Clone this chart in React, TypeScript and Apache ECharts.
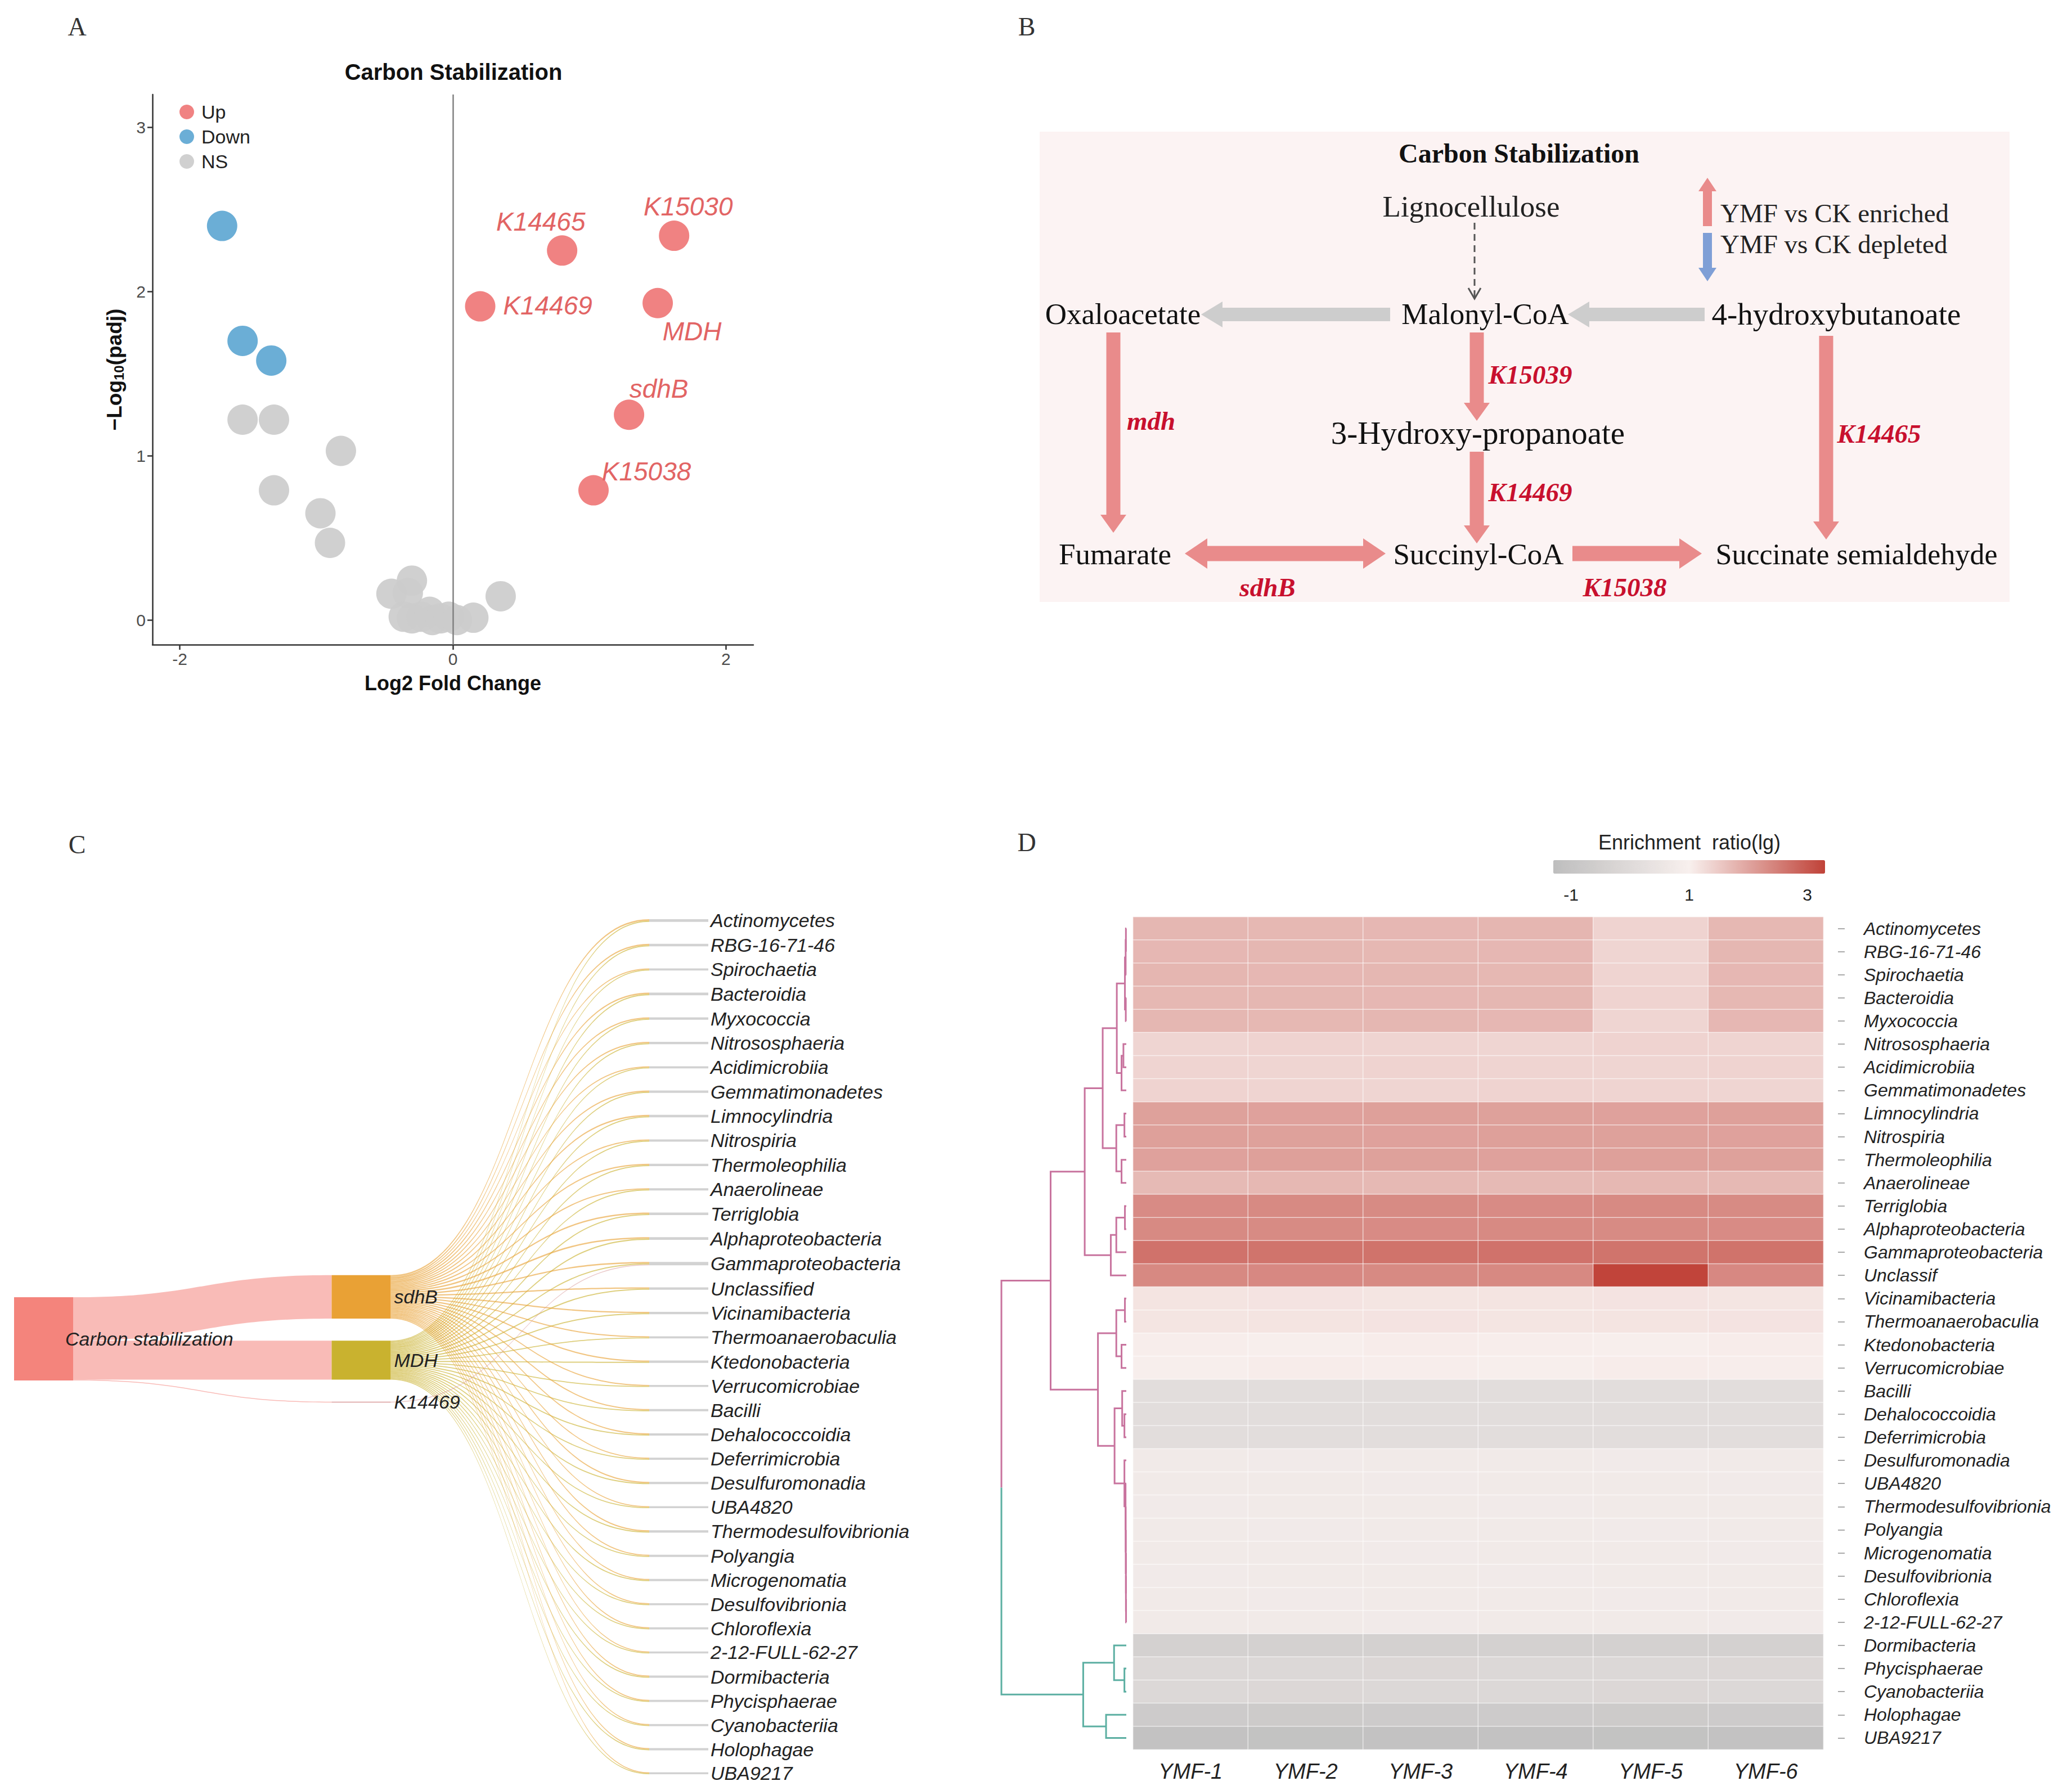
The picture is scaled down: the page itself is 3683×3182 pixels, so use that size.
import React, { useEffect, useRef } from 'react';
import * as echarts from 'echarts';

const W = 3683;
const H = 3182;
const SANS = '"Liberation Sans", Arial, Helvetica, sans-serif';
const SERIF = '"Liberation Serif", "Times New Roman", serif';

// ---------------- Panel A : volcano ----------------
const UP_GENES = ['K14465', 'K15030', 'K14469', 'MDH', 'sdhB', 'K15038'];
const UP_LOG2FC = [0.8, 1.62, 0.2, 1.5, 1.29, 1.03];
const UP_LOGP = [2.25, 2.34, 1.91, 1.93, 1.25, 0.79];
const DOWN_LOG2FC = [-1.69, -1.54, -1.33];
const DOWN_LOGP = [2.4, 1.7, 1.58];
const NS_LOG2FC = [-1.54, -1.31, -0.82, -1.31, -0.97, -0.9, -0.3, -0.45, -0.33, 0.35, -0.36, -0.3, -0.23, -0.17, -0.15, -0.09, -0.03, 0.03, 0.15];
const NS_LOGP = [1.22, 1.22, 1.03, 0.79, 0.65, 0.47, 0.24, 0.16, 0.165, 0.145, 0.02, 0.01, 0.02, 0.05, 0.0, 0.01, 0.02, 0.0, 0.014];
const VOLCANO_X_TICKS = [-2, 0, 2];
const VOLCANO_Y_TICKS = [0, 1, 2, 3];
const GROUPS = ['Up', 'Down', 'NS'];

// label placement (layout only)
const UP_LABEL_OFFSET: Record<string, [number, number]> = {
  K14465: [-38, -51],
  K15030: [25, -52],
  K14469: [120, -2],
  MDH: [61, 50],
  sdhB: [53, -46],
  K15038: [94, -34],
};

// ---------------- Panel C : sankey ----------------
const SANKEY_ROOT = 'Carbon stabilization';
const ENZYMES = ['sdhB', 'MDH', 'K14469'];
const CLASSES = [
  'Actinomycetes', 'RBG-16-71-46', 'Spirochaetia', 'Bacteroidia', 'Myxococcia', 'Nitrososphaeria',
  'Acidimicrobiia', 'Gemmatimonadetes', 'Limnocylindria', 'Nitrospiria', 'Thermoleophilia', 'Anaerolineae',
  'Terriglobia', 'Alphaproteobacteria', 'Gammaproteobacteria', 'Unclassified', 'Vicinamibacteria',
  'Thermoanaerobaculia', 'Ktedonobacteria', 'Verrucomicrobiae', 'Bacilli', 'Dehalococcoidia',
  'Deferrimicrobia', 'Desulfuromonadia', 'UBA4820', 'Thermodesulfovibrionia', 'Polyangia',
  'Microgenomatia', 'Desulfovibrionia', 'Chloroflexia', '2-12-FULL-62-27', 'Dormibacteria',
  'Phycisphaerae', 'Cyanobacteriia', 'Holophagae', 'UBA9217',
];
const SDHB_FLOW = [2.6, 2.4, 1.9, 2.5, 2.3, 2.2, 2.0, 2.1, 2.3, 2.0, 2.2, 2.1, 2.4, 2.5, 2.3, 2.2, 2.1, 2.0, 2.2, 1.9, 2.0, 2.1, 1.9, 2.0, 1.8, 2.2, 2.0, 1.9, 1.8, 1.9, 1.8, 2.1, 1.9, 1.8, 1.9, 1.7];
const MDH_FLOW = [1.9, 2.0, 1.7, 2.1, 2.0, 1.9, 1.8, 1.9, 2.0, 1.9, 2.0, 1.8, 2.1, 2.2, 2.0, 2.1, 1.9, 1.8, 1.9, 1.7, 1.8, 1.9, 1.8, 1.9, 1.7, 2.0, 1.8, 1.8, 1.7, 1.8, 1.7, 1.9, 1.8, 1.7, 1.8, 1.6];
const K14469_TARGET = 'Gammaproteobacteria';
const K14469_FLOW = 1.5;

// ---------------- Panel D : heatmap ----------------
const HEAT_SAMPLES = ['YMF-1', 'YMF-2', 'YMF-3', 'YMF-4', 'YMF-5', 'YMF-6'];
const HEAT_ROWS = CLASSES.map((c) => (c === 'Unclassified' ? 'Unclassif' : c));
const HEAT_VALUES = [
  [1.76, 1.74, 1.75, 1.77, 1.38, 1.74],
  [1.75, 1.76, 1.74, 1.75, 1.36, 1.76],
  [1.77, 1.75, 1.76, 1.74, 1.37, 1.75],
  [1.74, 1.76, 1.75, 1.76, 1.38, 1.74],
  [1.76, 1.74, 1.76, 1.75, 1.36, 1.75],
  [1.36, 1.38, 1.37, 1.36, 1.38, 1.37],
  [1.37, 1.36, 1.38, 1.37, 1.36, 1.38],
  [1.38, 1.37, 1.36, 1.38, 1.37, 1.36],
  [2.05, 2.04, 2.06, 2.05, 2.04, 2.06],
  [2.06, 2.05, 2.04, 2.06, 2.05, 2.04],
  [2.04, 2.06, 2.05, 2.04, 2.06, 2.05],
  [1.72, 1.74, 1.73, 1.72, 1.74, 1.73],
  [2.33, 2.35, 2.34, 2.33, 2.35, 2.34],
  [2.35, 2.34, 2.33, 2.35, 2.34, 2.33],
  [2.66, 2.64, 2.65, 2.66, 2.64, 2.65],
  [2.36, 2.37, 2.35, 2.36, 3.27, 2.37],
  [1.16, 1.17, 1.15, 1.16, 1.17, 1.15],
  [1.15, 1.16, 1.17, 1.15, 1.16, 1.17],
  [1.04, 1.03, 1.05, 1.04, 1.03, 1.05],
  [1.03, 1.05, 1.04, 1.03, 1.05, 1.04],
  [0.14, 0.12, 0.13, 0.14, 0.12, 0.13],
  [0.12, 0.13, 0.14, 0.12, 0.13, 0.14],
  [0.13, 0.14, 0.12, 0.13, 0.14, 0.12],
  [0.72, 0.74, 0.73, 0.72, 0.74, 0.73],
  [0.73, 0.72, 0.74, 0.73, 0.72, 0.74],
  [0.74, 0.73, 0.72, 0.74, 0.73, 0.72],
  [0.72, 0.74, 0.73, 0.72, 0.74, 0.73],
  [0.73, 0.72, 0.74, 0.73, 0.72, 0.74],
  [0.74, 0.73, 0.72, 0.74, 0.73, 0.72],
  [0.72, 0.74, 0.73, 0.72, 0.74, 0.73],
  [0.73, 0.72, 0.74, 0.73, 0.72, 0.74],
  [-0.43, -0.42, -0.44, -0.43, -0.42, -0.44],
  [-0.12, -0.11, -0.13, -0.12, -0.11, -0.13],
  [-0.11, -0.13, -0.12, -0.11, -0.13, -0.12],
  [-0.7, -0.71, -0.69, -0.7, -0.71, -0.69],
  [-1.1, -1.09, -1.11, -1.1, -1.09, -1.11],
];
const COLOR_MIN = -1.3;
const COLOR_MAX = 3.3;
const COLORBAR_TICKS = [-1, 1, 3];

// dendrogram: [height, left, right] or leaf row index
type DNode = number | [number, DNode, DNode];
const DENDRO_TREE: DNode = [1.0,
  [0.606,
    [0.333,
      [0.189,
        [0.076,
          [0.011, [0.005, [0.003, 0, 1], 2], [0.004, 3, 4]],
          [0.038, [0.023, 5, 6], 7]],
        [0.08, [0.015, 8, 9], [0.038, 10, 11]]],
      [0.124, [0.08, [0.011, 12, 13], 14], 15]],
    [0.227,
      [0.08, [0.011, 16, 17], [0.038, 18, 19]],
      [0.094,
        [0.033, 20, [0.015, 21, 22]],
        [0.015, 23, [0.006, 24, [0.005, 25, [0.004, 26, [0.003, 27, [0.003, 28, [0.002, 29, 30]]]]]]]]]],
  [0.345,
    [0.098, 31, [0.015, 32, 33]],
    [0.162, 34, 35]]];

const PINK = '#C8739E';
const TEAL = '#5CAFA2';

function buildDendro() {
  const segs: any[] = [];
  const lay = (n: DNode, color: string): { h: number; y: number } => {
    if (typeof n === 'number') return { h: 0, y: n };
    const L = lay(n[1], color);
    const R = lay(n[2], color);
    segs.push({ coords: [[L.h, L.y], [n[0], L.y], [n[0], R.y], [R.h, R.y]], lineStyle: { color } });
    return { h: n[0], y: (L.y + R.y) / 2 };
  };
  const root = DENDRO_TREE as [number, DNode, DNode];
  const U = lay(root[1], PINK);
  const T = lay(root[2], TEAL);
  const mid = (U.y + T.y) / 2;
  segs.push({ coords: [[U.h, U.y], [root[0], U.y], [root[0], mid]], lineStyle: { color: PINK } });
  segs.push({ coords: [[root[0], mid], [root[0], T.y], [T.h, T.y]], lineStyle: { color: TEAL } });
  return segs;
}

// ---------------- Panel B helpers ----------------
function arrowPts(x1: number, y1: number, x2: number, y2: number, bw: number, hw: number, hl: number, dbl = false) {
  const dx = x2 - x1, dy = y2 - y1;
  const len = Math.hypot(dx, dy);
  const ux = dx / len, uy = dy / len, nx = -uy, ny = ux;
  const P = (x: number, y: number, a: number, b: number) => [x + ux * a + nx * b, y + uy * a + ny * b];
  const pts: number[][] = [];
  if (dbl) pts.push(P(x1, y1, 0, 0), P(x1, y1, hl, hw / 2), P(x1, y1, hl, bw / 2));
  else pts.push(P(x1, y1, 0, bw / 2));
  pts.push(P(x2, y2, -hl, bw / 2), P(x2, y2, -hl, hw / 2), P(x2, y2, 0, 0), P(x2, y2, -hl, -hw / 2), P(x2, y2, -hl, -bw / 2));
  if (dbl) pts.push(P(x1, y1, hl, -bw / 2), P(x1, y1, hl, -hw / 2));
  else pts.push(P(x1, y1, 0, -bw / 2));
  return pts;
}

function txt(text: string, x: number, y: number, o: any = {}) {
  const align = o.align || 'center';
  return {
    type: 'text', x, y, z: 20,
    style: {
      text,
      fill: o.fill || '#111',
      fontSize: o.size || 40,
      fontFamily: o.family || SANS,
      fontWeight: o.weight || 'normal',
      fontStyle: o.style || 'normal',
      align, verticalAlign: 'middle',
      textAlign: align, textVerticalAlign: 'middle',
    },
  };
}

function buildOption() {
  // volcano series data
  const upData = UP_GENES.map((g, i) => ({
    name: g,
    value: [UP_LOG2FC[i], UP_LOGP[i]],
    label: { offset: UP_LABEL_OFFSET[g] },
  }));
  const downData = DOWN_LOG2FC.map((x, i) => [x, DOWN_LOGP[i]]);
  const nsData = NS_LOG2FC.map((x, i) => [x, NS_LOGP[i]]);

  // sankey
  const sdhTotal = SDHB_FLOW.reduce((a, b) => a + b, 0);
  const mdhTotal = MDH_FLOW.reduce((a, b) => a + b, 0);
  const total = sdhTotal + mdhTotal + K14469_FLOW;
  const SK_H = 1520;
  const SK_GAP = 39.2;
  const ky = (SK_H - (CLASSES.length - 1) * SK_GAP) / total;
  const centerY = 746;
  const srcTop = centerY - (total * ky) / 2;
  const midTop = centerY - (total * ky + 2 * SK_GAP) / 2;
  const enzVals = [sdhTotal, mdhTotal, K14469_FLOW];
  const enzTops: number[] = [];
  let acc = midTop;
  enzVals.forEach((v) => { enzTops.push(acc); acc += v * ky + SK_GAP; });
  const enzColors = ['#E9A135', '#C9B22F', '#D99A9A'];

  const nodes: any[] = [
    {
      name: SANKEY_ROOT, localY: srcTop / SK_H,
      itemStyle: { color: '#F4847C' },
      label: { position: 'right', distance: -14 },
    },
    ...ENZYMES.map((e, i) => ({
      name: e, localY: enzTops[i] / SK_H,
      itemStyle: { color: enzColors[i] },
      label: { position: 'right', distance: 6 },
    })),
    ...CLASSES.map((c) => ({ name: c, itemStyle: { color: '#D2D2D2' }, label: { position: 'right', distance: 4 } })),
  ];
  const links: any[] = [
    { source: SANKEY_ROOT, target: 'sdhB', value: sdhTotal },
    { source: SANKEY_ROOT, target: 'MDH', value: mdhTotal },
    { source: SANKEY_ROOT, target: 'K14469', value: K14469_FLOW },
  ];
  CLASSES.forEach((c, i) => {
    links.push({ source: 'sdhB', target: c, value: SDHB_FLOW[i], lineStyle: { opacity: 0.62 } });
    links.push({ source: 'MDH', target: c, value: MDH_FLOW[i], lineStyle: { opacity: 0.62 } });
  });
  links.push({ source: 'K14469', target: K14469_TARGET, value: K14469_FLOW });

  // heatmap
  const heatData: number[][] = [];
  HEAT_VALUES.forEach((row, r) => row.forEach((v, c) => heatData.push([c, r, v])));

  // colorbar geometry
  const CB_LEFT = 2761, CB_TOP = 1529, CB_LEN = 483, CB_THICK = 24;
  const cbX = (v: number) => CB_LEFT + ((v - COLOR_MIN) / (COLOR_MAX - COLOR_MIN)) * CB_LEN;

  // panel B graphics
  const RED = '#E98B8B';
  const GRAY = '#CDCDCD';
  const LAB = '#C8102E';
  const poly = (pts: number[][], fill: string) => ({ type: 'polygon', z: 10, shape: { points: pts }, style: { fill } });
  const red = (t: string, x: number, y: number) => txt(t, x, y, { family: SERIF, size: 47, weight: 'bold', style: 'italic', fill: LAB });
  const met = (t: string, x: number, y: number, size: number) => txt(t, x, y, { family: SERIF, size, fill: '#111' });
  const bGraphics: any[] = [
    { type: 'rect', z: 5, shape: { x: 1848, y: 234, width: 1724, height: 836 }, style: { fill: '#FCF3F3' } },
    txt('Carbon Stabilization', 2700, 272, { family: SERIF, size: 48, weight: 'bold' }),
    txt('Lignocellulose', 2615, 367, { family: SERIF, size: 53, fill: '#222' }),
    { type: 'line', z: 10, shape: { x1: 2621, y1: 396, x2: 2621, y2: 528 }, style: { stroke: '#555', lineWidth: 3, lineDash: [12, 8] } },
    { type: 'polyline', z: 10, shape: { points: [[2610, 512], [2621, 531], [2632, 512]] }, style: { stroke: '#555', lineWidth: 3, fill: null } },
    poly(arrowPts(3035, 402, 3035, 316, 16, 32, 24), RED),
    poly(arrowPts(3035, 414, 3035, 500, 16, 32, 24), '#7F9FD6'),
    txt('YMF vs CK enriched', 3058, 379, { family: SERIF, size: 47, align: 'left', fill: '#222' }),
    txt('YMF vs CK depleted', 3058, 434, { family: SERIF, size: 47, align: 'left', fill: '#222' }),
    poly(arrowPts(2471, 559, 2135, 559, 24, 46, 38), GRAY),
    poly(arrowPts(3030, 559, 2787, 559, 24, 46, 38), GRAY),
    met('Oxaloacetate', 1996, 558, 53),
    met('Malonyl-CoA', 2640, 558, 53),
    met('4-hydroxybutanoate', 3264, 558, 55),
    poly(arrowPts(1979, 591, 1979, 947, 25, 46, 32), RED),
    poly(arrowPts(2625, 591, 2625, 748, 25, 46, 32), RED),
    poly(arrowPts(2625, 803, 2625, 966, 25, 46, 32), RED),
    poly(arrowPts(3246, 597, 3246, 959, 25, 46, 32), RED),
    met('3-Hydroxy-propanoate', 2627, 769, 57),
    met('Fumarate', 1982, 985, 53),
    met('Succinyl-CoA', 2628, 985, 53),
    met('Succinate semialdehyde', 3300, 985, 52),
    poly(arrowPts(2106, 984, 2463, 984, 27, 54, 40, true), RED),
    poly(arrowPts(2795, 984, 3025, 984, 27, 54, 40), RED),
    red('mdh', 2046, 748),
    red('K15039', 2720, 666),
    red('K14469', 2720, 875),
    red('K14465', 3340, 771),
    red('sdhB', 2253, 1044),
    red('K15038', 2888, 1044),
  ];

  const otherGraphics: any[] = [
    txt('A', 137, 47, { family: SERIF, size: 46, fill: '#333' }),
    txt('B', 1825, 47, { family: SERIF, size: 46, fill: '#333' }),
    txt('C', 137, 1501, { family: SERIF, size: 46, fill: '#333' }),
    txt('D', 1825, 1497, { family: SERIF, size: 46, fill: '#333' }),
    txt('Carbon Stabilization', 806, 128, { size: 40, weight: 'bold' }),
    txt('Enrichment  ratio(lg)', 3003, 1497, { size: 36, fill: '#222' }),
    ...COLORBAR_TICKS.map((v) => txt(String(v), cbX(v), 1590, { size: 30, fill: '#222' })),
  ];

  const axisCommon = {
    splitLine: { show: false },
    axisLine: { onZero: false, lineStyle: { color: '#333', width: 2.5 } },
  };

  return {
    animation: false,
    backgroundColor: '#ffffff',
    textStyle: { fontFamily: SANS },
    grid: [
      { left: 271, top: 168, width: 1068, height: 978 },
      { left: 1780, top: 1630, width: 222, height: 1480 },
      { left: 2014, top: 1630, width: 1227, height: 1480 },
    ],
    xAxis: [
      {
        type: 'value', gridIndex: 0, min: -2.2, max: 2.2, ...axisCommon,
        axisTick: { show: true, length: 9, lineStyle: { color: '#333', width: 2.5 }, customValues: VOLCANO_X_TICKS },
        axisLabel: { color: '#4D4D4D', fontSize: 30, margin: 10, customValues: VOLCANO_X_TICKS },
        name: 'Log2 Fold Change', nameLocation: 'middle', nameGap: 50,
        nameTextStyle: { fontSize: 36, fontWeight: 'bold', color: '#111' },
      },
      { type: 'value', gridIndex: 1, min: 0, max: 1.0, inverse: true, show: false },
      {
        type: 'category', gridIndex: 2, data: HEAT_SAMPLES, position: 'bottom',
        axisLine: { show: false }, axisTick: { show: false }, splitLine: { show: false },
        axisLabel: { fontSize: 38, fontStyle: 'italic', color: '#222', margin: 20, interval: 0 },
      },
    ],
    yAxis: [
      {
        type: 'value', gridIndex: 0, min: -0.15, max: 3.2, ...axisCommon,
        axisTick: { show: true, length: 9, lineStyle: { color: '#333', width: 2.5 }, customValues: VOLCANO_Y_TICKS },
        axisLabel: { color: '#4D4D4D', fontSize: 30, margin: 12, customValues: VOLCANO_Y_TICKS },
        name: '{a|\u2212Log}{b|10}{a|(padj)}', nameLocation: 'middle', nameGap: 48,
        nameTextStyle: {
          rich: {
            a: { fontSize: 37, fontWeight: 'bold', color: '#111', fontFamily: SANS },
            b: { fontSize: 24, fontWeight: 'bold', color: '#111', fontFamily: SANS, padding: [16, 0, 0, 0] },
          },
        },
      },
      { type: 'value', gridIndex: 1, min: -0.5, max: 35.5, inverse: true, show: false },
      {
        type: 'category', gridIndex: 2, data: HEAT_ROWS, inverse: true, position: 'right', offset: 26,
        axisLine: { show: false }, splitLine: { show: false },
        axisTick: { show: true, alignWithLabel: true, interval: 0, length: 12, lineStyle: { color: '#AAAAAA', width: 2 } },
        axisLabel: { fontSize: 32, fontStyle: 'italic', color: '#222', margin: 46, interval: 0 },
      },
    ],
    legend: {
      data: GROUPS, orient: 'vertical', left: 314, top: 177,
      itemWidth: 26, itemHeight: 26, itemGap: 10, icon: 'circle',
      textStyle: { fontSize: 34, color: '#222', fontFamily: SANS, padding: [0, 0, 0, 8] },
      selectedMode: false,
    },
    visualMap: {
      type: 'continuous', min: COLOR_MIN, max: COLOR_MAX, seriesIndex: 5,
      orient: 'horizontal', left: CB_LEFT, top: CB_TOP, itemWidth: CB_THICK, itemHeight: CB_LEN,
      calculable: false, hoverLink: false, padding: 0, text: null,
      inRange: { color: ['#BEBEBE', '#F8F0EE', '#C04238'] },
    },
    series: [
      {
        type: 'scatter', xAxisIndex: 0, yAxisIndex: 0, data: [], z: 1, silent: true,
        markLine: {
          silent: true, symbol: ['none', 'none'], label: { show: false },
          lineStyle: { color: '#808080', width: 2.5, type: 'solid' },
          data: [{ xAxis: 0 }],
        },
      },
      {
        name: 'NS', type: 'scatter', xAxisIndex: 0, yAxisIndex: 0, data: nsData, z: 2,
        symbolSize: 54, itemStyle: { color: '#CCCCCC', opacity: 0.92 }, silent: true,
      },
      {
        name: 'Down', type: 'scatter', xAxisIndex: 0, yAxisIndex: 0, data: downData, z: 3,
        symbolSize: 54, itemStyle: { color: '#6BAED6', opacity: 1 }, silent: true,
      },
      {
        name: 'Up', type: 'scatter', xAxisIndex: 0, yAxisIndex: 0, data: upData, z: 4,
        symbolSize: 54, itemStyle: { color: '#F08282', opacity: 1 }, silent: true,
        label: {
          show: true, position: 'inside', formatter: '{b}',
          fontSize: 46, fontStyle: 'italic', color: '#E26464', fontFamily: SANS,
        },
      },
      {
        type: 'lines', coordinateSystem: 'cartesian2d', xAxisIndex: 1, yAxisIndex: 1,
        polyline: true, silent: true, data: buildDendro(),
        lineStyle: { width: 3, opacity: 1 },
      },
      {
        type: 'heatmap', xAxisIndex: 2, yAxisIndex: 2, data: heatData, silent: true,
        itemStyle: { borderColor: 'rgba(255,255,255,0.55)', borderWidth: 1.5 },
        emphasis: { disabled: true },
      },
      {
        type: 'sankey', left: 25, top: 1634, width: 1234, height: SK_H,
        nodeWidth: 105, nodeGap: SK_GAP, layoutIterations: 0, draggable: false, silent: true,
        emphasis: { disabled: true },
        data: nodes, links,
        itemStyle: { borderWidth: 0 },
        lineStyle: { color: 'source', opacity: 0.55, curveness: 0.5 },
        label: { show: true, fontSize: 34, fontStyle: 'italic', color: '#222', fontFamily: SANS },
      },
    ],
    graphic: [...bGraphics, ...otherGraphics],
  };
}

export default function App() {
  const ref = useRef<HTMLDivElement>(null);
  useEffect(() => {
    document.body.style.margin = '0';
    const chart = echarts.init(ref.current as HTMLDivElement, null, { renderer: 'svg' });
    chart.setOption(buildOption() as any);
    return () => chart.dispose();
  }, []);
  return <div ref={ref} style={{ width: W, height: H, background: '#ffffff' }} />;
}
